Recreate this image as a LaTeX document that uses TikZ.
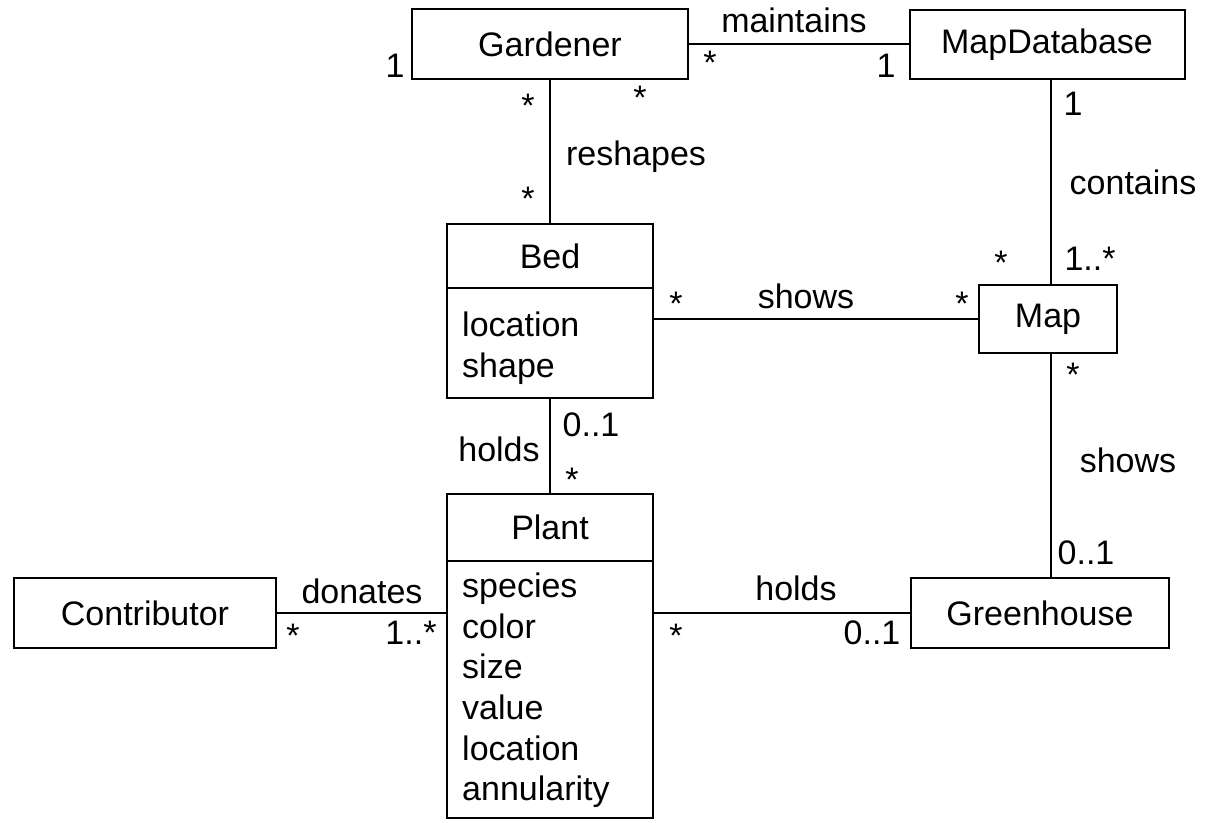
\documentclass[tikz,border=0pt]{standalone}
\usepackage{fontspec}
\setmainfont{Liberation Sans}
\begin{document}
\begin{tikzpicture}[x=1pt,y=-1pt,
  box/.style={draw,line width=2pt,inner sep=0pt,font=\fontsize{34}{40}\selectfont},
  lbl/.style={inner sep=0pt,font=\fontsize{34}{40}\selectfont},
  attr/.style={inner sep=0pt,anchor=base west,font=\fontsize{34}{40}\selectfont},
  conn/.style={line width=2pt}]
\useasboundingbox (0,0) rectangle (1206,822);
% classes
\node[box,minimum width=276pt,minimum height=70pt] (gardener) at (550,44) {Gardener};
\node[box,minimum width=275pt,minimum height=69pt] (mapdb) at (1047,44.5) {MapDatabase};
\node[box,minimum width=206pt,minimum height=64pt] (bedT) at (550,256) {Bed};
\node[box,minimum width=206pt,minimum height=110pt] (bedA) at (550,343) {};
\node[box,minimum width=138pt,minimum height=68pt] (map) at (1048,319) {Map};
\node[box,minimum width=206pt,minimum height=67pt] (plantT) at (550,527) {Plant};
\node[box,minimum width=206pt,minimum height=257pt] (plantA) at (550,689) {};
\node[box,minimum width=262pt,minimum height=70pt] (contrib) at (145,613) {Contributor};
\node[box,minimum width=258pt,minimum height=70pt] (green) at (1040,613) {Greenhouse};
\coordinate (mx) at (1051,0);
% attributes
\node[attr] (b1) at (462,336) {location};
\node[attr] (b2) at (462,377) {shape};
\node[attr] (p1) at (462,597) {species};
\node[attr] (p2) at (462,638) {color};
\node[attr] (p3) at (462,678) {size};
\node[attr] (p4) at (462,719) {value};
\node[attr] (p5) at (462,760) {location};
\node[attr] (p6) at (462,800) {annularity};
% connectors
\draw[conn] (gardener.east) -- (gardener.east -| mapdb.west);
\draw[conn] (gardener.south) -- (bedT.north);
\draw[conn] (mapdb.south -| mx) -- (map.north -| mx);
\draw[conn] (bedA.east |- map.west) -- (map.west);
\draw[conn] (map.south -| mx) -- (green.north -| mx);
\draw[conn] (bedA.south) -- (plantT.north);
\draw[conn] (contrib.east) -- (contrib.east -| plantA.west);
\draw[conn] (plantA.east |- green.west) -- (green.west);
% labels
\node[lbl] (l1) at (794,20) {maintains};
\node[lbl] (l2) at (710,63) {*};
\node[lbl] (l3) at (886,66) {1};
\node[lbl] (l4) at (395,66) {1};
\node[lbl] (l5) at (528,106) {*};
\node[lbl] (l6) at (640,98) {*};
\node[lbl] (l7) at (636,157) {reshapes};
\node[lbl] (l8) at (528,199) {*};
\node[lbl] (l9) at (1073,104) {1};
\node[lbl] (l10) at (1133,182) {contains};
\node[lbl] (l11) at (1090,259) {1..*};
\node[lbl] (l12) at (1001,263) {*};
\node[lbl] (l13) at (806,296) {shows};
\node[lbl] (l14) at (676,304) {*};
\node[lbl] (l15) at (962,304) {*};
\node[lbl] (l16) at (1073,375) {*};
\node[lbl] (l17) at (1128,460) {shows};
\node[lbl] (l18) at (1086,553) {0..1};
\node[lbl] (l19) at (499,449) {holds};
\node[lbl] (l20) at (591,425) {0..1};
\node[lbl] (l21) at (572,480) {*};
\node[lbl] (l22) at (362,591) {donates};
\node[lbl] (l23) at (293,636) {*};
\node[lbl] (l24) at (411,633) {1..*};
\node[lbl] (l25) at (796,588) {holds};
\node[lbl] (l26) at (676,636) {*};
\node[lbl] (l27) at (872,633) {0..1};
\end{tikzpicture}
\end{document}
